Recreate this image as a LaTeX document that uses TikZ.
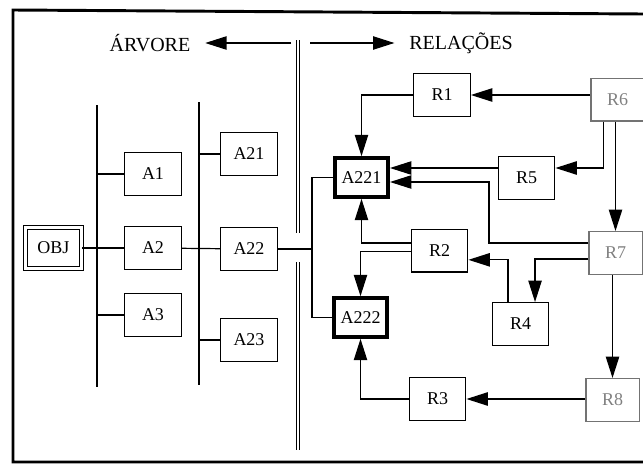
\documentclass[tikz,border=0pt]{standalone}
\usepackage{fontspec}
\setmainfont{Liberation Serif}
\usetikzlibrary{arrows.meta}
\tikzset{%
  myedge/.style={-{Triangle[length=16pt,width=10pt]}, line width=0.9pt},
  myline/.style={line width=0.9pt},
  mybox/.style={draw, line width=1pt, minimum width=42.4pt, minimum height=32pt, inner sep=0pt, font=\fontsize{13.5}{16}\selectfont},
  mykey/.style={mybox, line width=3pt, minimum width=39.75pt, minimum height=29pt},
  myfade/.style={mybox, draw=black!55, text=black!50, minimum width=40pt},
  mytitle/.style={font=\fontsize{15}{18}\selectfont, inner xsep=11pt}
}

\begin{document}
\begin{tikzpicture}[x=0.75pt, y=-0.75pt]
\useasboundingbox (0,0) rectangle (643,464);

% frame
\draw[line width=2.2pt] (643,14) -- (13,10) -- (13,462) -- (643,462);

% separator
\draw[line width=0.8pt, double, double distance=2pt] (298,40) -- (298,233) (298,262) -- (298,450);

% headings
\node[mytitle] (arv) at (150,43) {ÁRVORE};
\node[mytitle] (rel) at (461,43) {RELAÇÕES};
\coordinate (hl) at (291,43);
\coordinate (hr) at (310,43);
\draw[myedge] (hl) -- (arv);
\draw[myedge] (hr) -- (rel);

% tree
\node[mybox, double, double distance=2.2pt, line width=0.8pt, minimum width=41.6pt, minimum height=30.75pt] (OBJ) at (53.5,248) {OBJ};

\foreach \nm/\x/\y in {A1/153/174, A2/153/248, A3/153/315, A21/249/154, A22/249/249, A23/249/340}{
  \node[mybox] (\nm) at (\x,\y) {\nm};
}

\coordinate (T1) at (97,105);
\coordinate (T1b) at (97,387);
\coordinate (T2) at (199,102);
\coordinate (T2b) at (199,385);
\draw[myline] (T1) -- (T1b);
\draw[myline] (T2) -- (T2b);

\foreach \nm in {A1,A3}{
  \draw[myline] (\nm.west) -- (\nm.west -| T1);
}
\foreach \nm in {A21,A23}{
  \draw[myline] (\nm.west) -- (\nm.west -| T2);
}
\draw[myline] (OBJ) -- (A2);
\draw[myline] (A2) -- (A22);

% relations
\node[mykey] (A221) at (361.5,177.5) {A221};
\node[mykey] (A222) at (360.5,317.5) {A222};

\foreach \nm/\x/\y in {R1/442/95, R5/526.5/178, R2/439.5/250.5, R4/520.5/324, R3/437.5/399}{
  \node[mybox] (\nm) at (\x,\y) {\nm};
}
\foreach \nm/\x/\y in {R6/617.5/99.5, R7/615.5/253, R8/612.5/400}{
  \node[myfade] (\nm) at (\x,\y) {\nm};
}

\coordinate (bus) at (312,249);
\draw[myline] (A22) -- (bus);
\draw[myline] (A221.west) -| (bus) |- (A222.west);

\coordinate (r7turn) at (489,182);

\draw[myedge] (R6.west |- R1.east) -- (R1.east);
\draw[myedge] (R1.west) -| (A221.north);
\draw[myedge] ([xshift=-10.5pt]R6.south) |- ([yshift=7.5pt]R5.east);
\draw[myedge] (R7.north |- R6.south) -- (R7.north);
\draw[myedge] ([yshift=7.5pt]R5.west) -- ([yshift=7.5pt]R5.west -| A221.east);
\draw[myedge] ([yshift=7.5pt]R7.west) -| (r7turn) -- (A221.east |- r7turn);
\draw[myedge] ([yshift=5.6pt]R2.west) -| (A221.south);
\draw[myedge] ([yshift=-1pt]R2.west) -| (A222.north);
\draw[myedge] ([xshift=-9.4pt]R4.north) |- ([yshift=-7pt]R2.east);
\draw[myedge] ([yshift=-4.5pt]R7.west) -| ([xshift=10.9pt]R4.north);
\draw[myedge] (R8.north |- R7.south) -- (R8.north);
\draw[myedge] (R8.west |- R3.east) -- (R3.east);
\draw[myedge] (R3.west) -| (A222.south);

\end{tikzpicture}
\end{document}
